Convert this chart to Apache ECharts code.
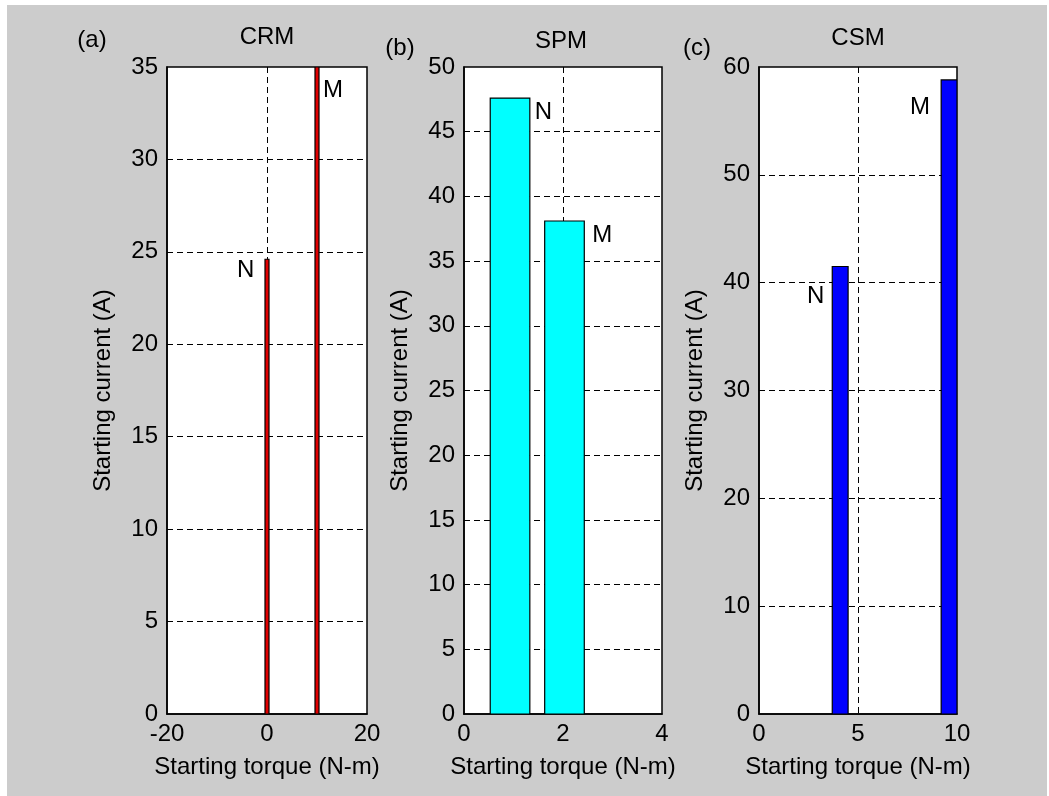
<!DOCTYPE html>
<html>
<head>
<meta charset="utf-8">
<script src="https://cdn.jsdelivr.net/npm/echarts@6/dist/echarts.min.js"></script>
<style>
html,body{margin:0;padding:0;background:#fff;}
#chart{width:1049px;height:796px;}
</style>
</head>
<body>
<div id="chart"></div>
<script>
// ---- Data ----
const barNames = ['N', 'M'];

const crmTorque = [0, 10];
const crmCurrent = [24.6, 35];
const crmLabelX = [-6.0, 11.2];
const crmLabelY = [24.0, 33.75];

const spmTorque = [0.93, 2.03];
const spmCurrent = [47.6, 38.1];
const spmLabelX = [1.43, 2.59];
const spmLabelY = [46.5, 37.0];

const csmTorque = [4.1, 9.6];
const csmCurrent = [41.5, 58.8];
const csmLabelX = [2.42, 7.63];
const csmLabelY = [38.7, 56.3];

const panelTitles = ['CRM', 'SPM', 'CSM'];
const panelLetters = ['(a)', '(b)', '(c)'];
const xLabel = 'Starting torque (N-m)';
const yLabel = 'Starting current (A)';

// ---- Styles ----
const BAR_W = 0.8;
const FONT = '"Liberation Sans", Arial, sans-serif';
const FS = 24;

const panels = [
  {tx: crmTorque, cur: crmCurrent, lx: crmLabelX, ly: crmLabelY, color: '#e00000',
   xmin: -20, xmax: 20, xint: 20, ymin: 0, ymax: 35, yint: 5, left: 167, width: 200},
  {tx: spmTorque, cur: spmCurrent, lx: spmLabelX, ly: spmLabelY, color: '#00ffff',
   xmin: 0, xmax: 4, xint: 2, ymin: 0, ymax: 50, yint: 5, left: 464, width: 198},
  {tx: csmTorque, cur: csmCurrent, lx: csmLabelX, ly: csmLabelY, color: '#0000ff',
   xmin: 0, xmax: 10, xint: 5, ymin: 0, ymax: 60, yint: 10, left: 759, width: 198}
];

const TOP = 67, HEIGHT = 647;

const grids = [], xAxes = [], yAxes = [], series = [];
const dashed = {show: true, showMinLine: false, showMaxLine: false,
  lineStyle: {color: '#000', type: [6, 4], width: 1}};

panels.forEach((p, i) => {
  grids.push({left: p.left, top: TOP, width: p.width, height: HEIGHT,
    show: true, backgroundColor: '#fff', borderColor: '#000', borderWidth: 1.5, containLabel: false});
  xAxes.push({type: 'value', gridIndex: i, min: p.xmin, max: p.xmax, interval: p.xint,
    axisLine: {show: true, onZero: false, lineStyle: {color: '#000', width: 1.5}}, axisTick: {show: false},
    axisLabel: {color: '#000', fontSize: FS, fontFamily: FONT, margin: 8},
    splitLine: dashed,
    name: xLabel, nameLocation: 'middle', nameGap: 41,
    nameTextStyle: {color: '#000', fontSize: FS, fontFamily: FONT}});
  yAxes.push({type: 'value', gridIndex: i, min: p.ymin, max: p.ymax, interval: p.yint,
    axisLine: {show: true, onZero: false, lineStyle: {color: '#000', width: 1.5}}, axisTick: {show: false},
    axisLabel: {color: '#000', fontSize: FS, fontFamily: FONT, margin: 9},
    splitLine: dashed,
    name: yLabel, nameLocation: 'middle', nameGap: 52,
    nameTextStyle: {color: '#000', fontSize: FS, fontFamily: FONT}});
  series.push({
    type: 'custom', xAxisIndex: i, yAxisIndex: i, clip: true,
    itemStyle: {color: p.color},
    data: p.tx.map((x, k) => [x, p.cur[k]]),
    renderItem: function (params, api) {
      const x = api.value(0), y = api.value(1);
      const a = api.coord([x - BAR_W / 2, 0]);
      const b = api.coord([x + BAR_W / 2, y]);
      return {type: 'rect',
        shape: {x: a[0], y: b[1], width: b[0] - a[0], height: a[1] - b[1]},
        style: {fill: p.color, stroke: '#000', lineWidth: 1.2}};
    }
  });
  series.push({
    type: 'custom', xAxisIndex: i, yAxisIndex: i,
    data: p.lx.map((x, k) => [x, p.ly[k]]),
    renderItem: function (params, api) {
      const c = api.coord([api.value(0), api.value(1)]);
      return {type: 'text', x: c[0], y: c[1],
        style: {text: barNames[params.dataIndex], fill: '#000', fontSize: FS, fontFamily: FONT,
          align: 'left', verticalAlign: 'middle'}};
    }
  });
});

const titlePos = [[267, 37], [561, 41], [858, 38]];
const letterPos = [[92, 40], [400, 48], [697, 48]];
const graphics = [
  {type: 'rect', shape: {x: 0, y: 0, width: 1049, height: 5}, style: {fill: '#fff'}, z: 100},
  {type: 'rect', shape: {x: 0, y: 0, width: 7, height: 796}, style: {fill: '#fff'}, z: 100},
  {type: 'rect', shape: {x: 1047, y: 0, width: 2, height: 796}, style: {fill: '#fff'}, z: 100}
];
panelTitles.forEach((t, i) => {
  graphics.push({type: 'text', x: titlePos[i][0], y: titlePos[i][1],
    style: {text: t, fill: '#000', fontSize: FS, fontFamily: FONT, align: 'center', verticalAlign: 'middle'}});
  graphics.push({type: 'text', x: letterPos[i][0], y: letterPos[i][1],
    style: {text: panelLetters[i], fill: '#000', fontSize: FS, fontFamily: FONT, align: 'center', verticalAlign: 'middle'}});
});

const chart = echarts.init(document.getElementById('chart'), null, {renderer: 'canvas'});
chart.setOption({
  backgroundColor: '#cccccc',
  animation: false,
  grid: grids, xAxis: xAxes, yAxis: yAxes, series: series,
  graphic: graphics
});
</script>
</body>
</html>
